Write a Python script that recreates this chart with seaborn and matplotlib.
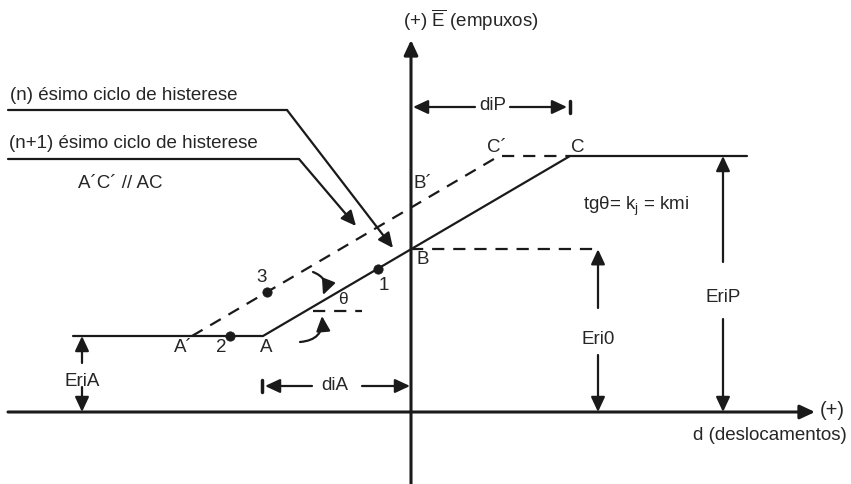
import matplotlib
matplotlib.use("Agg")
import matplotlib.pyplot as plt
import numpy as np
import pandas as pd
import seaborn as sns

# Displacement (d) and thrust (E) of the characteristic points, axes origin at (0, 0)
d_A, d_C = -148, 159          # solid branch A -> C
d_A2, d_C2 = -219, 88         # dashed branch A' -> C'
E_A, E_C = 76, 256            # lower and upper plateaus
d_left, d_right = -338, 336   # plateau extents
d_points = {"1": -33, "2": -181, "3": -144}

sns.set_theme(style="white")
plt.rcParams["font.family"] = ["Liberation Sans", "DejaVu Sans"]
plt.rcParams["mathtext.fontset"] = "custom"
plt.rcParams["mathtext.rm"] = "Liberation Sans"
plt.rcParams["mathtext.it"] = "Liberation Sans:italic"

FS = 13.5
LW = 1.6

fig = plt.figure(figsize=(8.51, 4.84), dpi=100)
ax = fig.add_axes([0, 0, 1, 1])
ax.set_xlim(-411, 440)
ax.set_ylim(-72, 412)
ax.axis("off")

slope = (E_C - E_A) / (d_C - d_A)
E_B = E_A + (0 - d_A) * slope          # intercept of solid branch on E axis
E_B2 = E_A + (0 - d_A2) * slope        # intercept of dashed branch


def arrow(tail, tip, lw=LW):
    ax.annotate("", xy=tip, xytext=tail,
                arrowprops=dict(arrowstyle="-|>,head_length=0.9,head_width=0.42",
                                mutation_scale=10, lw=lw, color="k",
                                shrinkA=0, shrinkB=0))


def curved(tail, tip, rad):
    ax.annotate("", xy=tip, xytext=tail,
                arrowprops=dict(arrowstyle="-|>,head_length=0.9,head_width=0.42",
                                mutation_scale=10, lw=LW, color="k",
                                shrinkA=0, shrinkB=0,
                                connectionstyle=f"arc3,rad={rad}"))


# Coordinate axes
arrow((-403, 0), (404, 0), lw=2.2)
arrow((0, -72), (0, 372), lw=2.2)

# Solid (n) cycle and dashed (n+1) cycle
solid = pd.DataFrame({"d": [d_left, d_A, d_C, d_right],
                      "E": [E_A, E_A, E_C, E_C]})
dashed = pd.DataFrame({"d": [d_A2, d_C2, d_C], "E": [E_A, E_C, E_C]})
sns.lineplot(data=solid, x="d", y="E", sort=False, color="k", lw=LW, ax=ax)
sns.lineplot(data=dashed, x="d", y="E", sort=False, color="k", lw=LW,
             ax=ax, linestyle=(0, (5.5, 4)))

# Horizontal reference at B
ax.plot([0, 189], [E_B, E_B], color="k", lw=LW, linestyle=(0, (5.5, 4)))

# Points 1, 2, 3
pts_d = np.array([d_points["1"], d_points["2"], d_points["3"]])
pts_E = np.array([E_A + (d_points["1"] - d_A) * slope,
                  E_A,
                  E_A + (d_points["3"] - d_A2) * slope])
sns.scatterplot(x=pts_d, y=pts_E, color="k", s=45, edgecolor="k", ax=ax, zorder=5)

# Vertical dimension arrows
d_Eri0, d_EriP, d_EriA = 187, 312, -329
arrow((d_Eri0, 104), (d_Eri0, E_B))
arrow((d_Eri0, 57), (d_Eri0, 0))
ax.text(d_Eri0, 72, "Eri0", ha="center", va="center", fontsize=FS)
arrow((d_EriP, 150), (d_EriP, E_C))
arrow((d_EriP, 93), (d_EriP, 0))
ax.text(d_EriP, 114, "EriP", ha="center", va="center", fontsize=FS)
arrow((d_EriA, 49), (d_EriA, E_A))
arrow((d_EriA, 25), (d_EriA, 0))
ax.text(d_EriA, 30, "EriA", ha="center", va="center", fontsize=FS)

# Horizontal dimension arrows
y_diA = 26
arrow((-99, y_diA), (-146, y_diA))
arrow((-49, y_diA), (-1, y_diA))
ax.plot([d_A - 1, d_A - 1], [y_diA - 6, y_diA + 6], color="k", lw=2.5)
ax.text(-76, y_diA + 1, "diA", ha="center", va="center", fontsize=FS)

y_diP = 305
arrow((64, y_diP), (2, y_diP))
arrow((99, y_diP), (156, y_diP))
ax.plot([d_C, d_C], [y_diP - 6, y_diP + 6], color="k", lw=2.5)
ax.text(82, y_diP + 1, "diP", ha="center", va="center", fontsize=FS)

# Angle theta
ax.plot([-98, -49], [101, 101], color="k", lw=LW, linestyle=(0, (5.5, 4)))
ax.text(-68, 112, "θ", ha="center", va="center", fontsize=FS - 1)
curved((-98, 140), (-88, 117), -0.5)
curved((-111, 70), (-89, 96), 0.5)

# Leader lines to the two cycles
ax.plot([-403, -124], [302, 302], color="k", lw=LW)
arrow((-124, 302), (-18, 164))
ax.plot([-403, -112], [253, 253], color="k", lw=LW)
arrow((-112, 253), (-55, 186))

# Point labels
labels = [("1", -27, 127), ("2", -190, 64), ("3", -149, 134),
          ("A´", -228, 64), ("A", -145, 64), ("B", 12, 152),
          ("B´", 12, 228), ("C´", 86, 265), ("C", 167, 265)]
for txt, x, y in labels:
    ax.text(x, y, txt, ha="center", va="center", fontsize=FS)

# Annotations
ax.text(-401, 316, "(n) ésimo ciclo de histerese", ha="left", va="center", fontsize=FS)
ax.text(-402, 268, "(n+1) ésimo ciclo de histerese", ha="left", va="center", fontsize=FS)
ax.text(-333, 229, "A´C´ // AC", ha="left", va="center", fontsize=FS)
ax.text(172, 206, r"tgθ= k$_{\mathrm{j}}$ = kmi", ha="left", va="center", fontsize=FS)
ax.text(-8, 392, r"(+) $\overline{\mathrm{E}}$ (empuxos)", ha="left", va="center", fontsize=FS)
ax.text(409, 1, "(+)", ha="left", va="center", fontsize=FS + 1)
ax.text(436, -23, "d (deslocamentos)", ha="right", va="center", fontsize=FS)

fig.savefig("out.png", dpi=100, facecolor="white")
